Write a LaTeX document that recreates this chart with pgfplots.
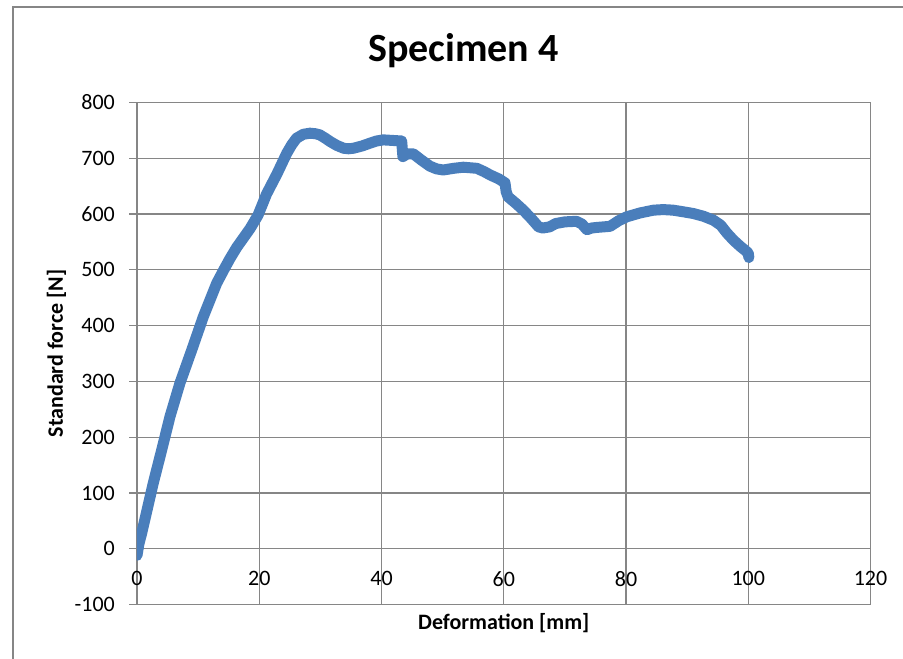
\documentclass[border=0pt]{standalone}
\usepackage{pgfplots}
\pgfplotsset{compat=1.18}
\usepackage{fontspec}
\setmainfont{Carlito}
\definecolor{gridc}{RGB}{134,134,134}
\definecolor{blu}{RGB}{74,126,187}
\begin{document}
\begin{tikzpicture}
\path[use as bounding box] (-137pt,-54.5pt) rectangle (766pt,604.5pt);
\draw[gridc, line width=1.2pt] (-124pt,-80pt) rectangle (800pt,597.5pt);
\begin{axis}[
  scale only axis, width=733.5pt, height=502pt,
  xmin=0, xmax=120, ymin=-100, ymax=800,
  xtick={0,20,...,120}, ytick={-100,0,...,800},
  xtick pos=bottom, ytick pos=left,
  grid=major, grid style={gridc, line width=1.2pt},
  axis line style={gridc, line width=1.2pt},
  tick align=outside, major tick length=8pt,
  ytick style={gridc, line width=1.2pt},
  xtick style={draw=none},
  /pgf/number format/assume math mode=true,
  xticklabel style={font=\fontsize{22}{22}\selectfont, anchor=north, inner sep=0pt, yshift=41pt},
  yticklabel style={font=\fontsize{22}{22}\selectfont, anchor=east, inner sep=0pt, xshift=-14pt},
  title={Specimen 4},
  title style={font=\bfseries\fontsize{40}{40}\selectfont, at={(axis description cs:0.445,1.0707)}, anchor=base, inner sep=0pt},
  xlabel={Deformation [mm]},
  xlabel style={font=\bfseries\fontsize{22}{22}\selectfont, at={(axis description cs:0.5,-0.0498)}, anchor=base, inner sep=0pt},
  ylabel={Standard force [N]},
  ylabel style={font=\bfseries\fontsize{22}{22}\selectfont, at={(axis description cs:-0.1009,0.5)}, anchor=base, inner sep=0pt, rotate=0},
]
\addplot[blu, line width=11pt, line join=round, line cap=round, no markers] coordinates {
(0,-12) (0.3,8) (0.77,28) (1.7,72) (2.67,118) (4.04,177) (5.40,237) (7.03,297)
(8.95,356) (10.85,416) (13.04,476) (14.2,500) (15.2,520) (16.3,540) (17.4,557)
(18.5,574) (19.8,598) (20.5,617) (21.2,636) (22.9,672) (24.5,709) (25.3,724)
(26.1,736) (27.2,743) (28.3,745) (29.2,744) (29.9,742) (30.8,736) (31.6,730)
(32.7,723) (33.8,718) (34.6,717) (35.4,718) (36.8,722) (38.1,727) (39.2,731)
(40.3,733) (41.8,732) (43.3,731) (43.5,703) (44.2,708) (45.2,708) (46.5,697)
(47.9,686) (49.0,681) (50.1,679) (51.8,682) (53.4,684) (55.6,682) (56.8,676)
(57.8,670) (59.2,663) (60.2,656) (60.4,640) (60.7,631) (62.0,619) (63.2,607)
(64.5,592) (65.7,577) (66.4,575) (67.5,577) (68.5,583) (70.0,586) (71.9,587)
(72.8,582) (73.6,572) (74.4,575) (75.2,576) (77.4,578) (78.8,588) (80.1,595)
(82.3,602) (84.5,607) (86.1,608) (87.7,607) (89.4,604) (91.0,601) (92.7,596)
(94.3,589) (95.5,580) (96.5,566) (97.6,553) (98.7,542) (99.5,535) (100.0,530)
(100.1,522)
};
\end{axis}
\end{tikzpicture}
\end{document}
